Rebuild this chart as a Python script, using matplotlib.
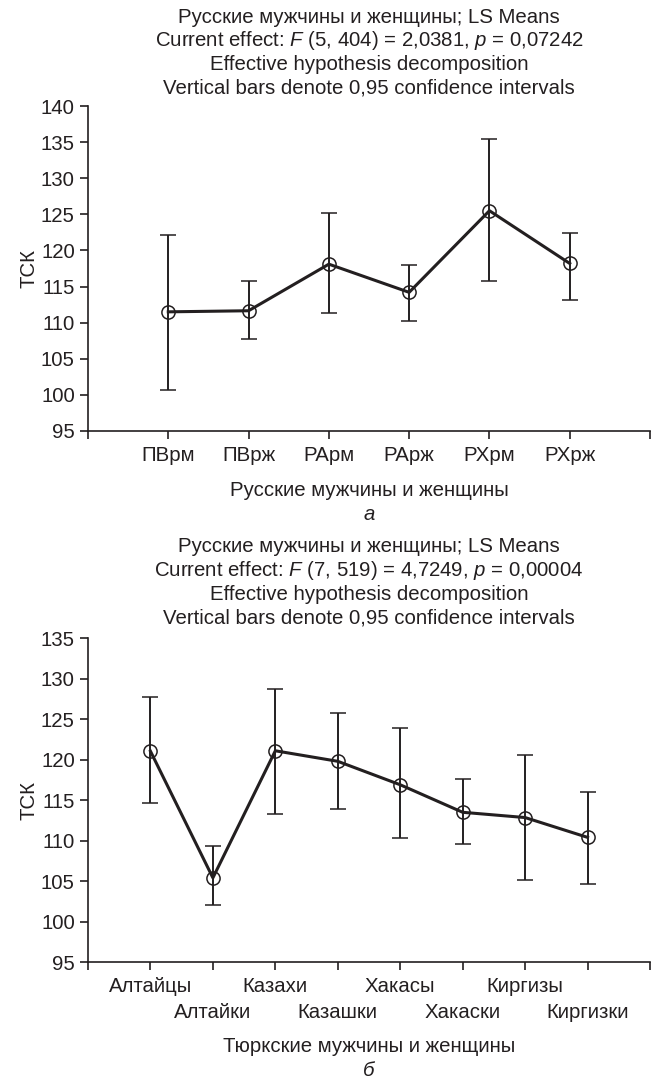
import matplotlib.pyplot as plt
import numpy as np

plt.rcParams['font.family'] = ['Liberation Sans', 'DejaVu Sans']
plt.rcParams['mathtext.fontset'] = 'custom'
plt.rcParams['mathtext.rm'] = 'Liberation Sans'
plt.rcParams['mathtext.it'] = 'Liberation Sans:italic'
plt.rcParams['font.size'] = 14.7

INK = '#231f20'
W, H = 651, 1083

# a: Russian men and women, LS means with 0.95 CI
groups_a = ['ПВрм', 'ПВрж', 'РАрм', 'РАрж', 'РХрм', 'РХрж']
means_a = [111.5, 111.65, 118.1, 114.2, 125.5, 118.2]
low_a = [100.7, 107.7, 111.4, 110.2, 115.8, 113.1]
high_a = [122.1, 115.7, 125.2, 118.0, 135.4, 122.4]
title_a = ['Русские мужчины и женщины; LS Means',
           'Current effect: $F$ (5, 404) = 2,0381, $p$ = 0,07242',
           'Effective hypothesis decomposition',
           'Vertical bars denote 0,95 confidence intervals']

# б: Turkic men and women
groups_b = ['Алтайцы', 'Алтайки', 'Казахи', 'Казашки',
            'Хакасы', 'Хакаски', 'Киргизы', 'Киргизки']
means_b = [121.05, 105.4, 121.1, 119.8, 116.9, 113.5, 112.85, 110.4]
low_b = [114.6, 102.1, 113.35, 113.9, 110.3, 109.6, 105.1, 104.7]
high_b = [127.7, 109.3, 128.7, 125.75, 123.9, 117.6, 120.6, 115.95]
title_b = ['Русские мужчины и женщины; LS Means',
           'Current effect: $F$ (7, 519) = 4,7249, $p$ = 0,00004',
           'Effective hypothesis decomposition',
           'Vertical bars denote 0,95 confidence intervals']


def px(y):
    """pixel row from the top -> figure fraction"""
    return 1 - y / H


def ls_means_panel(ax, groups, means, low, high, ylim, stagger=False):
    x = np.arange(1, len(groups) + 1)
    means = np.array(means)
    yerr = [means - np.array(low), np.array(high) - means]
    ax.errorbar(x, means, yerr=yerr, fmt='-o', color=INK, lw=2.2,
                ms=9.5, mfc='none', mec=INK, mew=1.1,
                ecolor=INK, elinewidth=1.4, capsize=5.5, capthick=1.4)

    ax.set_xlim(0, len(groups) + 1)
    ax.set_ylim(*ylim)
    ax.set_yticks(np.arange(ylim[0], ylim[1] + 1, 5))
    ax.set_xticks(np.arange(0, len(groups) + 2))
    ax.set_xticklabels([''] + groups + [''])

    for side in ('top', 'right'):
        ax.spines[side].set_visible(False)
    for side in ('left', 'bottom'):
        ax.spines[side].set_linewidth(1.2)
        ax.spines[side].set_color(INK)
    ax.tick_params(length=6, width=1.2, color=INK, labelcolor=INK)
    ax.tick_params(axis='y', pad=3.5)
    ax.tick_params(axis='x', pad=5)

    if stagger:
        # every second group label goes on a lower row
        for i, tick in enumerate(ax.xaxis.get_major_ticks()):
            if i % 2 == 0 and 0 < i <= len(groups):
                tick.set_pad(5 + 18.5)

    ax.set_ylabel('ТСК', color=INK, labelpad=2)


def title_lines(lines, y0, step=23.5):
    for i, line in enumerate(lines):
        fig.text(369 / W, px(y0 + i * step), line, ha='center', va='center',
                 color=INK)


fig = plt.figure(figsize=(W / 100, H / 100), dpi=100)

ax_a = fig.add_axes([88 / W, px(431), 562 / W, 325 / H])
ls_means_panel(ax_a, groups_a, means_a, low_a, high_a, (95, 140))
title_lines(title_a, 17.5)
fig.text(369 / W, px(490), 'Русские мужчины и женщины', ha='center',
         va='center', color=INK)
fig.text(369 / W, px(514), '$а$', ha='center', va='center', color=INK)

ax_b = fig.add_axes([88 / W, px(962), 562 / W, 323.7 / H])
ls_means_panel(ax_b, groups_b, means_b, low_b, high_b, (95, 135),
               stagger=True)
title_lines(title_b, 547)
fig.text(369 / W, px(1046), 'Тюркские мужчины и женщины', ha='center',
         va='center', color=INK)
fig.text(369 / W, px(1070), '$б$', ha='center', va='center', color=INK)

fig.savefig('out.png', dpi=100)
